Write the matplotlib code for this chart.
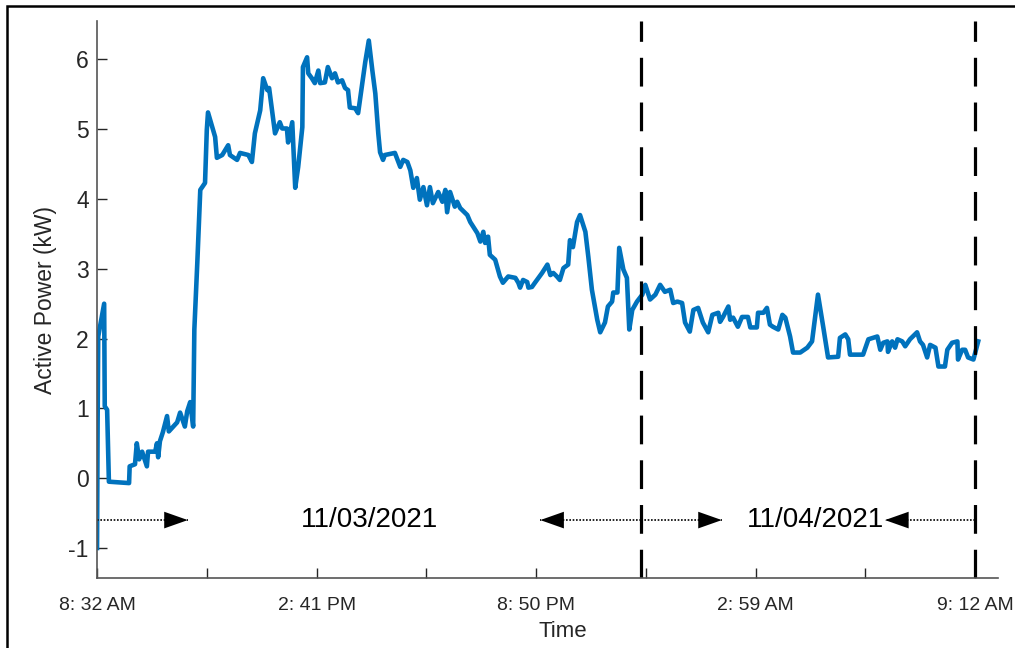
import matplotlib.pyplot as plt
from matplotlib.patches import Rectangle

# minutes after 8:32 AM (11/03/2021) and active power in kW
minutes = [0, 1, 2, 12, 13, 17, 20, 54, 55, 64, 67, 71, 76, 84, 86, 98, 101, 103, 106, 111,
           118, 121, 135, 140, 148, 152, 157, 162, 164, 169, 174, 182, 185, 187, 199, 202,
           211, 221, 224, 236, 241, 255, 261, 266, 275, 280, 287, 290, 295, 300, 308, 312,
           320, 322, 329, 334, 339, 346, 347, 354, 356, 362, 367, 373, 376, 384, 389, 396,
           401, 406, 413, 418, 423, 426, 435, 440, 447, 452, 458, 464, 469, 474, 477, 482,
           485, 502, 511, 516, 523, 528, 533, 539, 544, 550, 556, 561, 566, 575, 582, 587,
           590, 595, 603, 607, 612, 624, 629, 641, 646, 651, 654, 659, 662, 671, 679, 684,
           693, 705, 710, 713, 718, 725, 727, 733, 738, 750, 759, 764, 769, 775, 780, 786,
           794, 797, 802, 809, 814, 823, 828, 834, 843, 848, 856, 861, 868, 870, 877, 880,
           887, 893, 897, 902, 910, 919, 924, 932, 941, 949, 957, 966, 971, 978, 986, 991,
           999, 1005, 1013, 1021, 1030, 1037, 1047, 1050, 1055, 1064, 1067, 1072, 1080, 1087,
           1097, 1101, 1112, 1114, 1123, 1129, 1134, 1139, 1148, 1155, 1160, 1168, 1173, 1185,
           1197, 1205, 1215, 1224, 1232, 1249, 1252, 1261, 1266, 1269, 1291, 1300, 1315, 1320,
           1325, 1332, 1333, 1340, 1345, 1349, 1357, 1362, 1370, 1382, 1387, 1392, 1399, 1404,
           1413, 1418, 1429, 1433, 1441, 1450, 1451, 1458, 1463, 1468, 1477, 1485]
power = [-1.0, 0.8, 2.03, 2.5, 1.03, 0.98, -0.05, -0.07, 0.17, 0.2, 0.5, 0.27, 0.38, 0.17, 0.38,
         0.38, 0.5, 0.3, 0.53, 0.66, 0.89, 0.67, 0.8, 0.94, 0.74, 0.96, 1.09, 0.74, 2.13, 3.09,
         4.13, 4.23, 4.99, 5.24, 4.89, 4.59, 4.63, 4.77, 4.63, 4.56, 4.66, 4.63, 4.53, 4.94,
         5.27, 5.73, 5.56, 5.59, 5.27, 4.94, 5.1, 5.01, 5.01, 4.81, 5.1, 4.16, 4.46, 5.03,
         5.89, 6.03, 5.8, 5.73, 5.66, 5.84, 5.66, 5.67, 5.89, 5.73, 5.8, 5.67, 5.7, 5.59,
         5.56, 5.31, 5.3, 5.23, 5.66, 5.96, 6.27, 5.84, 5.51, 4.94, 4.67, 4.56, 4.63, 4.66,
         4.46, 4.56, 4.53, 4.41, 4.16, 4.3, 3.99, 4.17, 3.91, 4.17, 3.94, 4.1, 3.96, 4.13,
         3.81, 4.1, 3.89, 3.96, 3.87, 3.77, 3.67, 3.51, 3.39, 3.53, 3.37, 3.46, 3.2, 3.13,
         2.89, 2.8, 2.89, 2.87, 2.8, 2.73, 2.84, 2.81, 2.73, 2.74, 2.8, 2.94, 3.06, 2.91,
         2.94, 2.89, 2.84, 3.01, 3.06, 3.41, 3.31, 3.67, 3.77, 3.53, 3.17, 2.7, 2.27, 2.09,
         2.23, 2.46, 2.53, 2.66, 2.66, 3.3, 2.99, 2.87, 2.13, 2.41, 2.53, 2.63, 2.77, 2.56,
         2.63, 2.77, 2.67, 2.7, 2.51, 2.53, 2.51, 2.23, 2.1, 2.41, 2.44, 2.23, 2.09, 2.34,
         2.37, 2.24, 2.31, 2.46, 2.27, 2.3, 2.17, 2.31, 2.31, 2.16, 2.16, 2.37, 2.37, 2.44,
         2.2, 2.17, 2.13, 2.34, 2.3, 2.03, 1.8, 1.8, 1.87, 1.96, 2.63, 2.16, 1.73, 1.74,
         2.01, 2.06, 1.99, 1.77, 1.77, 1.99, 2.03, 1.84, 1.94, 1.96, 1.81, 1.96, 1.87, 1.99,
         1.96, 1.89, 1.99, 2.09, 1.96, 1.91, 1.73, 1.91, 1.87, 1.6, 1.6, 1.84, 1.94, 1.96,
         1.7, 1.84, 1.84, 1.73, 1.7, 1.96]

tick_minutes = [0, 185, 370, 555, 740, 925, 1110, 1295, 1480]
tick_labels = ["8: 32 AM", "", "2: 41 PM", "", "8: 50 PM", "", "2: 59 AM", "", "9: 12 AM"]
day_bounds = [917, 1480]          # dashed separators
day_names = ["11/03/2021", "11/04/2021"]
day_text_x = [460, 1210]
arrow_y = -0.6
# (dotted line start, arrow tip)
arrows = [(0, 153), (917, 747), (917, 1053), (1480, 1328)]

plt.rcParams["font.family"] = ["Liberation Sans", "DejaVu Sans"]
plt.rcParams["axes.unicode_minus"] = False

fig = plt.figure(figsize=(10.15, 6.48), dpi=100)
ax = fig.add_axes([0.0956, 0.108, 0.888, 0.8596])

ax.plot(minutes, power, color="#0072BD", lw=3.3, solid_joinstyle="round")

for xb in day_bounds:
    ax.axvline(xb, color="black", lw=2.3, dashes=(9, 5))

for start, tip in arrows:
    ax.plot([start, tip], [arrow_y, arrow_y], color="black", lw=1.2, linestyle=(0, (1, 1)))
    ax.annotate("", xy=(tip, arrow_y), xytext=(start, arrow_y),
                arrowprops=dict(arrowstyle="-|>,head_length=0.85,head_width=0.3",
                                color="black", lw=0, shrinkA=0, shrinkB=0,
                                mutation_scale=20))

for name, xt in zip(day_names, day_text_x):
    ax.text(xt, arrow_y, name, ha="center", va="center", fontsize=20)

ax.set_xlim(0, 1519)
ax.set_ylim(-1.43, 6.55)
ax.set_yticks(range(-1, 7))
ax.set_xticks(tick_minutes)
ax.set_xticklabels(tick_labels, fontsize=14)
ax.tick_params(direction="in", length=7, colors="#262626", width=1)
ax.tick_params(axis="y", labelsize=16.5, pad=6)
ax.tick_params(axis="x", pad=14)
for side in ["top", "right"]:
    ax.spines[side].set_visible(False)
for side in ["left", "bottom"]:
    ax.spines[side].set_color("#555555")
    ax.spines[side].set_linewidth(1.2)

ax.set_ylabel("Active Power (kW)", fontsize=16.5, color="#262626", labelpad=8)
ax.set_xlabel("Time", fontsize=16, color="#262626", labelpad=8)
ax.xaxis.set_label_coords(0.517, -0.078)

fig.patches.append(Rectangle((7 / 1015, -0.05), 1.1, 0.05 + 642 / 648,
                             transform=fig.transFigure, fill=False,
                             edgecolor="black", lw=1.8))

fig.savefig("out.png", dpi=100)
